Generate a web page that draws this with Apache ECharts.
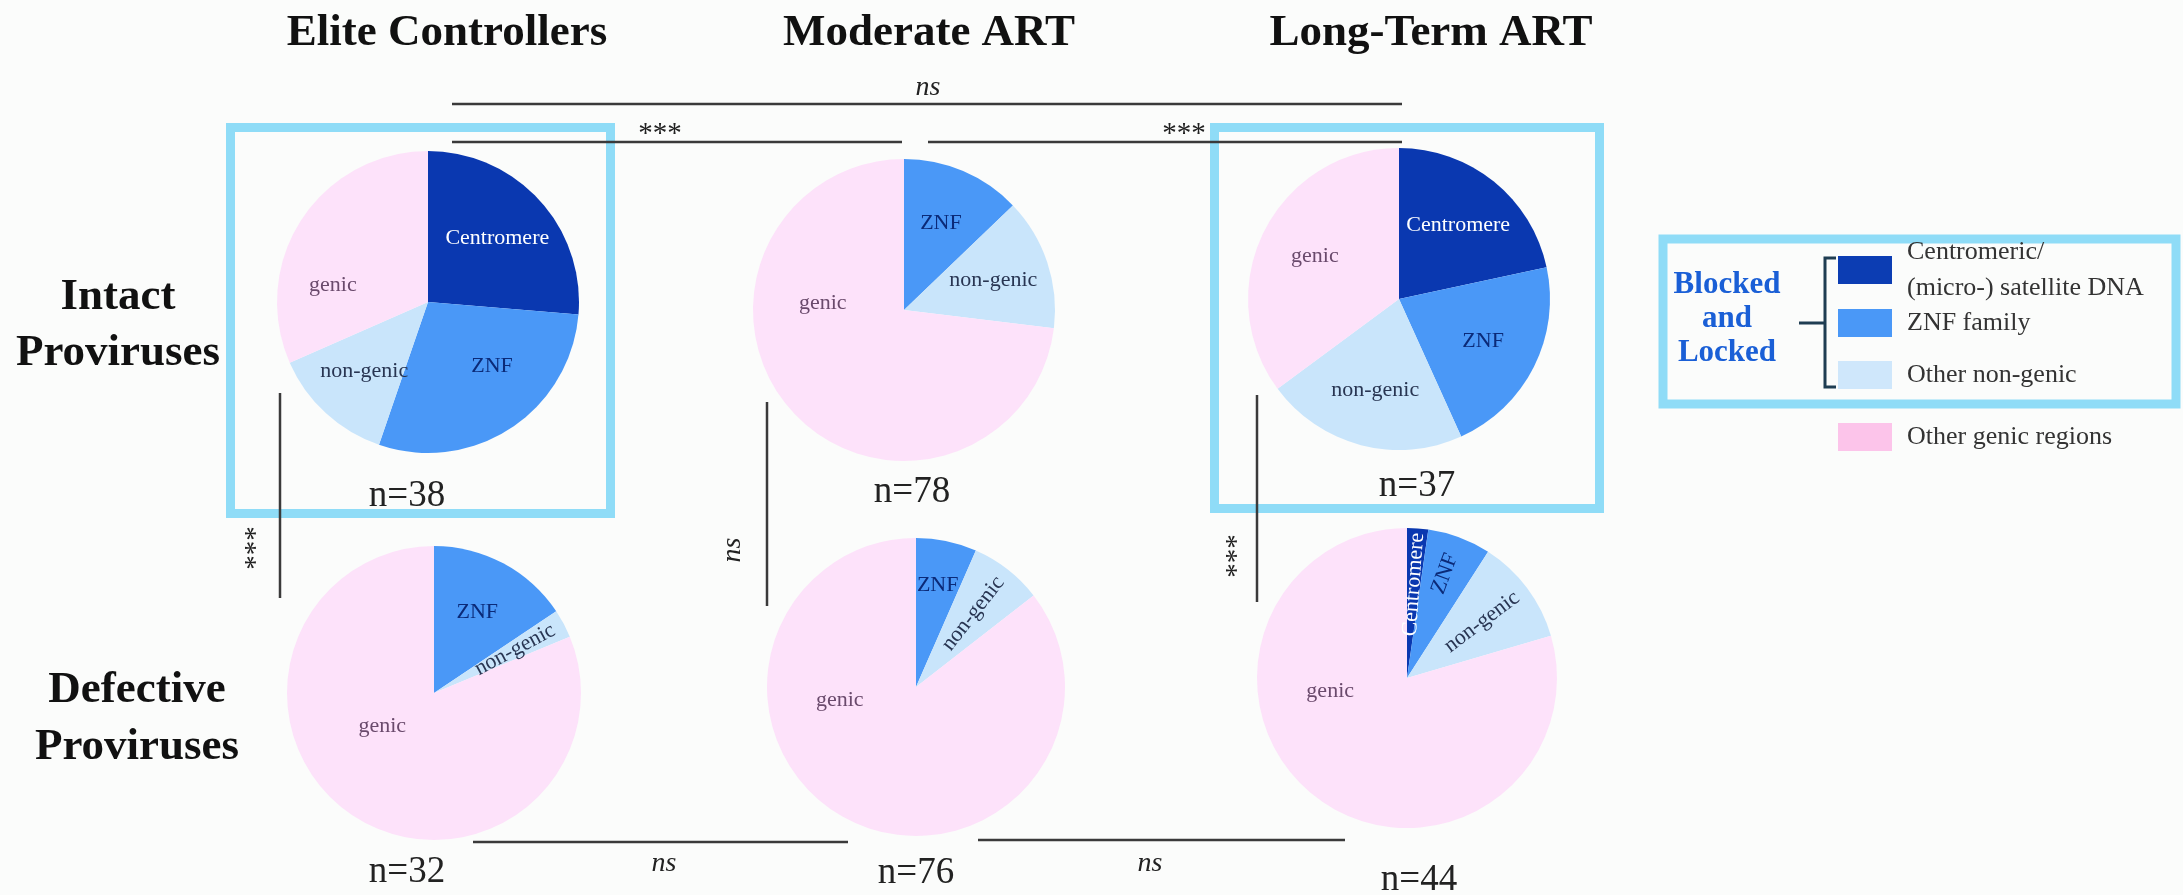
<!DOCTYPE html>
<html>
<head>
<meta charset="utf-8">
<script src="https://cdn.jsdelivr.net/npm/echarts/dist/echarts.min.js"></script>
<style>
html,body{margin:0;padding:0;background:#fbfcfb;}
#chart{width:2183px;height:895px;}
</style>
</head>
<body>
<div id="chart"></div>
<script>
// ---------- DATA ----------
const categories = ['Centromere', 'ZNF', 'non-genic', 'genic'];
const legendLabels = ['Centromeric/\n(micro-) satellite DNA', 'ZNF family', 'Other non-genic', 'Other genic regions'];
const groups = ['Elite Controllers', 'Moderate ART', 'Long-Term ART'];
const rowLabels = ['Intact\nProviruses', 'Defective\nProviruses'];
// counts per category [Centromere, ZNF, non-genic, genic]
const intactEC = [10, 11, 5, 12];
const intactMA = [0, 10, 11, 57];
const intactLT = [8, 8, 8, 13];
const defectiveEC = [0, 5, 1, 26];
const defectiveMA = [0, 5, 6, 65];
const defectiveLT = [1, 3, 5, 35];
const topSig = ['ns', '***', '***'];        // EC vs LT, EC vs MA, MA vs LT (intact)
const verticalSig = ['***', 'ns', '***'];   // intact vs defective per group
const bottomSig = ['ns', 'ns'];             // EC vs MA, MA vs LT (defective)
const blockedLabel = 'Blocked\nand\nLocked';

// ---------- STYLE / LAYOUT ----------
const SERIF = '"Liberation Serif", "DejaVu Serif", serif';
const sliceColors = ['#0a38b0', '#4a98f7', '#c9e5fb', '#fde2fa'];
const legendSwatch = ['#0c3db3', '#4a98f7', '#cfe7fb', '#fcc4ea'];
const labelColors = ['#ffffff', '#0b2a78', '#283552', '#6a4a6c'];
const boxColor = '#8fdcf7';
const lineColor = '#3a3a3a';

// label placement overrides: category -> [angle clockwise from 12 o'clock, fraction of radius]
const pies = [
  {id: 'iEC', counts: intactEC, c: [428, 302], r: 151, nPos: [407, 496], radial: [], place: {genic: [280, 0.64], ZNF: [135, 0.6]}},
  {id: 'iMA', counts: intactMA, c: [904, 310], r: 151, nPos: [912, 492], radial: [], place: {genic: [275, 0.54]}},
  {id: 'iLT', counts: intactLT, c: [1399, 299], r: 151, nPos: [1417, 486], radial: [], place: {}},
  {id: 'dEC', counts: defectiveEC, c: [434, 693], r: 147, nPos: [407, 872], radial: ['non-genic'], place: {genic: [237, 0.42]}},
  {id: 'dMA', counts: defectiveMA, c: [916, 687], r: 149, nPos: [916, 873], radial: ['non-genic'], place: {genic: [260, 0.52], ZNF: [12, 0.7]}},
  {id: 'dLT', counts: defectiveLT, c: [1407, 678], r: 150, nPos: [1419, 880], radial: ['Centromere', 'ZNF', 'non-genic'], place: {genic: [260, 0.52], ZNF: [20, 0.74]}}
];

function makeLayout(p, names) {
  return function (lp) {
    const nm = names[lp.dataIndex];
    const cx = p.c[0], cy = p.c[1];
    if (p.place[nm]) {
      const a = p.place[nm][0] * Math.PI / 180, f = p.place[nm][1] * p.r;
      return {x: cx + f * Math.sin(a), y: cy - f * Math.cos(a), align: 'center', verticalAlign: 'middle'};
    }
    const rc = lp.labelRect;
    const x = rc.x + rc.width / 2, y = rc.y + rc.height / 2;
    return {x: cx + (x - cx) * 1.2, y: cy + (y - cy) * 1.2, align: 'center', verticalAlign: 'middle'};
  };
}

const series = pies.map(function (p) {
  const data = [], names = [];
  p.counts.forEach(function (v, i) {
    if (v > 0) {
      const item = {
        name: categories[i],
        value: v,
        itemStyle: {color: sliceColors[i]},
        label: {color: labelColors[i]}
      };
      if (p.radial.indexOf(categories[i]) >= 0) item.label.rotate = 'radial';
      data.push(item);
      names.push(categories[i]);
    }
  });
  return {
    type: 'pie',
    id: p.id,
    center: p.c,
    radius: [0, p.r],
    startAngle: 90,
    clockwise: true,
    silent: true,
    animation: false,
    itemStyle: {borderWidth: 0},
    label: {show: true, position: 'inside', fontFamily: SERIF, fontSize: 22, formatter: '{b}'},
    labelLine: {show: false},
    labelLayout: makeLayout(p, names),
    emphasis: {disabled: true},
    data: data
  };
});

function txt(x, y, s, o) {
  return {type: 'text', x: x, y: y, rotation: (o && o.rot) || 0, silent: true,
    style: Object.assign({text: s, fontFamily: SERIF, fontSize: 28, fill: '#222', align: 'center', verticalAlign: 'middle'}, (o && o.style) || {})};
}
function line(x1, y1, x2, y2) {
  return {type: 'line', silent: true, shape: {x1: x1, y1: y1, x2: x2, y2: y2}, style: {stroke: lineColor, lineWidth: 2.5}};
}
function box(x, y, w, h) {
  return {type: 'rect', silent: true, shape: {x: x, y: y, width: w, height: h}, style: {fill: null, stroke: boxColor, lineWidth: 9}};
}

const graphics = [];
// highlight boxes
graphics.push(box(230.5, 127.5, 380, 386));
graphics.push(box(1214.5, 127.5, 385, 381));
graphics.push(box(1663, 239, 513, 165));
// column titles
const titleX = [447, 929, 1431];
groups.forEach(function (g, i) {
  graphics.push(txt(titleX[i], 33, g, {style: {fontSize: 45, fontWeight: 'bold', fill: '#111'}}));
});
// row labels
graphics.push(txt(118, 325, rowLabels[0], {style: {fontSize: 45, fontWeight: 'bold', fill: '#111', lineHeight: 56}}));
graphics.push(txt(137, 719, rowLabels[1], {style: {fontSize: 45, fontWeight: 'bold', fill: '#111', lineHeight: 57}}));
// n labels
pies.forEach(function (p) {
  const n = p.counts.reduce(function (a, b) { return a + b; }, 0);
  graphics.push(txt(p.nPos[0], p.nPos[1], 'n=' + n, {style: {fontSize: 37, fill: '#222'}}));
});
// top significance
graphics.push(line(452, 104, 1402, 104));
graphics.push(txt(928, 88, topSig[0], {style: {fontStyle: 'italic', fontSize: 28}}));
graphics.push(line(452, 142, 902, 142));
graphics.push(txt(660, 134, topSig[1], {style: {fontSize: 29}}));
graphics.push(line(928, 142, 1402, 142));
graphics.push(txt(1184, 134, topSig[2], {style: {fontSize: 29}}));
// vertical significance
const vx = [280, 767, 1257], vy1 = [393, 402, 395], vy2 = [598, 606, 602], vtx = [256, 733, 1237], vty = [548, 550, 556];
verticalSig.forEach(function (s, i) {
  graphics.push(line(vx[i], vy1[i], vx[i], vy2[i]));
  graphics.push(txt(vtx[i], vty[i], s, {rot: Math.PI / 2, style: {fontSize: s === 'ns' ? 28 : 29, fontStyle: s === 'ns' ? 'italic' : 'normal'}}));
});
// bottom significance
graphics.push(line(473, 842, 848, 842));
graphics.push(txt(664, 864, bottomSig[0], {style: {fontStyle: 'italic', fontSize: 28}}));
graphics.push(line(978, 840, 1345, 840));
graphics.push(txt(1150, 864, bottomSig[1], {style: {fontStyle: 'italic', fontSize: 28}}));
// legend bracket
const bc = '#1f3d52';
graphics.push({type: 'polyline', silent: true, shape: {points: [[1836, 258], [1825, 258], [1825, 387], [1836, 387]]}, style: {stroke: bc, lineWidth: 3, fill: null}});
graphics.push({type: 'line', silent: true, shape: {x1: 1799, y1: 323, x2: 1825, y2: 323}, style: {stroke: bc, lineWidth: 3}});
graphics.push(txt(1727, 319, blockedLabel, {style: {fontSize: 31, fontWeight: 'bold', fill: '#1a5fd6', lineHeight: 34}}));

// legends (one per item to match spacing)
const legendTops = [234, 309, 361, 423];
const legends = categories.map(function (c, i) {
  return {
    left: 1838,
    top: legendTops[i],
    padding: 0,
    orient: 'vertical',
    selectedMode: false,
    itemWidth: 54,
    itemHeight: 28,
    icon: 'rect',
    data: [{name: c, itemStyle: {color: legendSwatch[i]}}],
    formatter: function () { return legendLabels[i]; },
    textStyle: {fontFamily: SERIF, fontSize: 26, color: '#333', lineHeight: i === 0 ? 36 : 28, padding: [0, 0, 0, 10]}
  };
});

const chart = echarts.init(document.getElementById('chart'), null, {renderer: 'canvas'});
chart.setOption({
  backgroundColor: '#fbfcfb',
  animation: false,
  legend: legends,
  series: series,
  graphic: graphics
});
</script>
</body>
</html>
